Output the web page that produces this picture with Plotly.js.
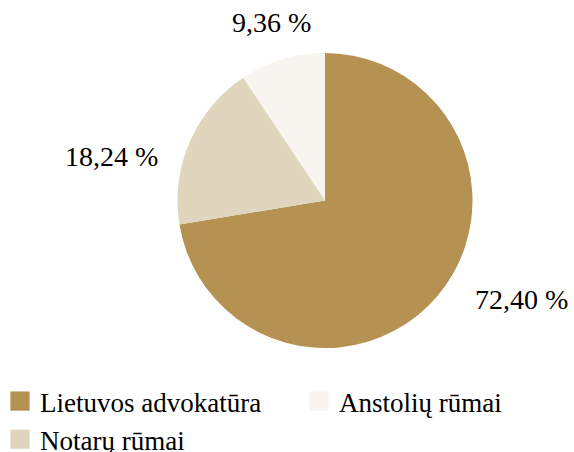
<!DOCTYPE html>
<html>
<head>
<meta charset="utf-8">
<script src="https://cdn.plot.ly/plotly-3.0.1.min.js"></script>
<style>
  html, body { margin: 0; padding: 0; background: #fff; overflow: hidden; }
  #chart { width: 600px; height: 452px; }
</style>
</head>
<body>
<div id="chart"></div>
<script>
// Data (order chosen so the legend reads row-wise like the reference)
const categories = ["Lietuvos advokatūra", "Anstolių rūmai", "Notarų rūmai"];
const shares = [72.40, 9.36, 18.24];
const sliceColors = ["#B59152", "#F8F5F0", "#E0D6BE"];

// Layout geometry (pixels)
const W = 600, H = 452;
const cx = 325, cy = 200.5, R = 147.5;
// pixel offsets of each value label from the slice's outer mid-point
const labelShift = [[84.5, 3.6], [-10.7, -36.8], [-78.2, 15.2]];

const FONT = "Liberation Serif, Times New Roman, serif";

const trace = {
  type: "pie",
  labels: categories,
  values: shares,
  sort: false,
  direction: "counterclockwise",
  rotation: 0,
  marker: { colors: sliceColors, line: { width: 0 } },
  textinfo: "none",
  hoverinfo: "skip",
  domain: { x: [(cx - R) / W, (cx + R) / W], y: [1 - (cy + R) / H, 1 - (cy - R) / H] },
  automargin: false
};

// Mid-angles of the slices (clockwise from 12 o'clock), following the
// counterclockwise drawing order used by the trace.
const total = shares.reduce((a, b) => a + b, 0);
const midAngles = [];
(function () {
  // first slice occupies [0, a0] clockwise; later slices go counterclockwise from 0
  const a0 = shares[0] / total * 360;
  midAngles.push(a0 / 2);
  let end = 0;
  for (let i = 1; i < shares.length; i++) {
    const a = shares[i] / total * 360;
    midAngles.push(end - a / 2);
    end -= a;
  }
})();

const annotations = shares.map(function (v, i) {
  const t = midAngles[i] * Math.PI / 180;
  const px = cx + R * Math.sin(t);
  const py = cy - R * Math.cos(t);
  return {
    xref: "paper", yref: "paper",
    x: px / W, y: 1 - py / H,
    xanchor: "center", yanchor: "middle",
    xshift: labelShift[i][0], yshift: -labelShift[i][1],
    showarrow: false,
    text: v.toFixed(2).replace(".", ",") + " %",
    font: { family: FONT, size: 28, color: "#000" }
  };
});

const layout = {
  width: W,
  height: H,
  margin: { l: 0, r: 0, t: 0, b: 0, autoexpand: false },
  paper_bgcolor: "#fff",
  separators: ", ",
  showlegend: true,
  annotations: annotations,
  legend: {
    orientation: "h",
    x: 0, xanchor: "left",
    y: 1 - 377 / H, yanchor: "top",
    entrywidth: 254,
    entrywidthmode: "pixels",
    font: { family: FONT, size: 27, color: "#000" },
    bgcolor: "rgba(0,0,0,0)",
    itemclick: false, itemdoubleclick: false
  }
};

Plotly.newPlot("chart", [trace], layout, { displayModeBar: false, staticPlot: true }).then(function () {
  document.querySelectorAll("#chart path.legendpie").forEach(function (p) {
    p.setAttribute("transform", "translate(20,0) scale(1.6)");
  });
});
</script>
</body>
</html>
